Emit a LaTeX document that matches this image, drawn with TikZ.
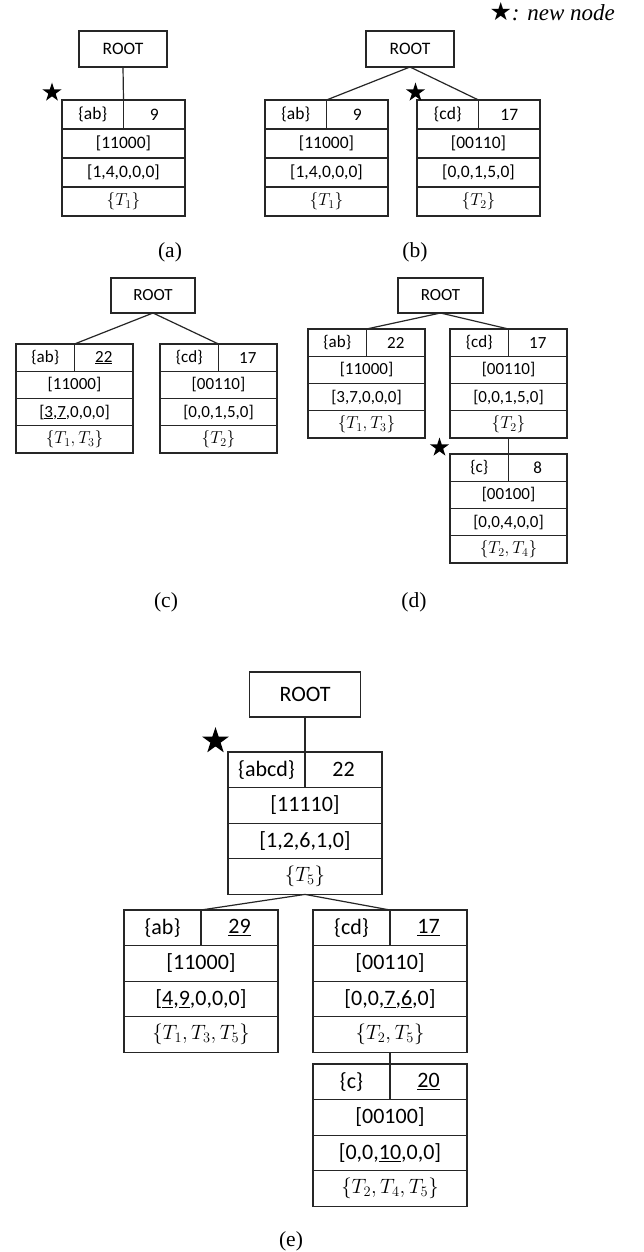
\documentclass[tikz,border=0pt]{standalone}
\usepackage{fontspec}
\setmainfont{Carlito}
\newfontfamily\capfont{Liberation Serif}
\newfontfamily\symfont{DejaVu Sans}
\usetikzlibrary{shapes.geometric}

\tikzset{
  cell/.style={draw=black!85, rectangle, inner sep=0pt, outer sep=0pt, anchor=north west, line width=1.1pt},
  conn/.style={draw=black!85, line width=1.2pt},
  newmark/.style={star, star points=5, star point ratio=2.6, fill=black, draw=none, inner sep=0pt, outer sep=0pt, minimum size=20pt},
  sublabel/.style={font=\capfont\fontsize{21.5}{24}\selectfont, inner sep=0pt},
  smallfont/.style={font=\fontsize{17.5}{20}\selectfont},
  midfont/.style={font=\fontsize{17}{20}\selectfont},
  bigfont/.style={font=\fontsize{22}{26}\selectfont},
}

% #1 name, #2 top-left corner, #3 label, #4 count, #5 bits, #6 vector, #7 set
\newcommand\recbox[7]{%
  \node[cell, minimum width=\rw/2, minimum height=\rh] (#1l) at (#2) {#3};
  \node[cell, minimum width=\rw/2, minimum height=\rh] (#1r) at (#1l.north east) {#4};
  \node[cell, minimum width=\rw, minimum height=\rh] (#1b) at (#1l.south west) {#5};
  \node[cell, minimum width=\rw, minimum height=\rh] (#1v) at (#1b.south west) {#6};
  \node[cell, minimum width=\rw, minimum height=\rh] (#1s) at (#1v.south west) {#7};
}

\begin{document}
\begin{tikzpicture}[x=1pt, y=-1pt]
\fill[white] (0,0) rectangle (644,1252);
\useasboundingbox (0,0) rectangle (644,1252);

% legend
\node[anchor=base east, inner sep=0pt] (legend) at (615,21)
  {{\symfont\fontsize{25}{26}\selectfont ★}{\capfont\itshape\fontsize{23}{24}\selectfont : new node}};

% ---------- (a) ----------
\begin{scope}[smallfont]
\def\rw{123}\def\rh{29}
\node[cell, minimum width=88, minimum height=36] (aroot) at (79,31) {ROOT};
\recbox{a}{62,100}{\{ab\}}{9}{[11000]}{[1,4,0,0,0]}{$\{T_1\}$}
\draw[conn] (aroot.south) -- (al.north east);
\node[newmark] (astar) at (52,92.5) {};
\end{scope}
\node[sublabel] (capa) at (170,252) {(a)};

% ---------- (b) ----------
\begin{scope}[smallfont]
\def\rw{123}\def\rh{29}
\node[cell, minimum width=88, minimum height=36] (broot) at (366,31) {ROOT};
\recbox{bA}{265,100}{\{ab\}}{9}{[11000]}{[1,4,0,0,0]}{$\{T_1\}$}
\recbox{bB}{417,100}{\{cd\}}{17}{[00110]}{[0,0,1,5,0]}{$\{T_2\}$}
\draw[conn] (broot.south) -- (bAl.north east);
\draw[conn] (broot.south) -- (bBl.north east);
\node[newmark] (bstar) at (415.5,92.5) {};
\end{scope}
\node[sublabel] (capb) at (415,252) {(b)};

% ---------- (c) ----------
\begin{scope}[midfont]
\def\rw{117}\def\rh{27.25}
\node[cell, minimum width=84, minimum height=35] (croot) at (111,278) {ROOT};
\recbox{cA}{16,344}{\{ab\}}{\underline{22}}{[11000]}{[\underline{3},\underline{7},0,0,0]}{$\{T_1,T_3\}$}
\recbox{cB}{160,344}{\{cd\}}{17}{[00110]}{[0,0,1,5,0]}{$\{T_2\}$}
\draw[conn] (croot.south) -- (cAl.north east);
\draw[conn] (croot.south) -- (cBl.north east);
\end{scope}
\node[sublabel] (capc) at (166,602) {(c)};

% ---------- (d) ----------
\begin{scope}[midfont]
\def\rw{117}\def\rh{27.25}
\node[cell, minimum width=85, minimum height=35] (droot) at (398,278) {ROOT};
\recbox{dA}{308,329}{\{ab\}}{22}{[11000]}{[3,7,0,0,0]}{$\{T_1,T_3\}$}
\recbox{dB}{450,329}{\{cd\}}{17}{[00110]}{[0,0,1,5,0]}{$\{T_2\}$}
\recbox{dC}{450,454}{\{c\}}{8}{[00100]}{[0,0,4,0,0]}{$\{T_2,T_4\}$}
\draw[conn] (droot.south) -- (dAl.north east);
\draw[conn] (droot.south) -- (dBl.north east);
\draw[conn] (dBs.south) -- (dCl.north east);
\node[newmark] (dstar) at (439.5,447.5) {};
\end{scope}
\node[sublabel] (capd) at (414,602) {(d)};

% ---------- (e) ----------
\begin{scope}[bigfont]
\def\rw{154}\def\rh{35.6}
\node[cell, minimum width=111, minimum height=45] (eroot) at (249.5,672) {ROOT};
\recbox{eT}{228,752}{\{abcd\}}{22}{[11110]}{[1,2,6,1,0]}{$\{T_5\}$}
\recbox{eA}{124,910}{\{ab\}}{\underline{29}}{[11000]}{[\underline{4},\underline{9},0,0,0]}{$\{T_1,T_3,T_5\}$}
\recbox{eB}{313,910}{\{cd\}}{\underline{17}}{[00110]}{[0,0,\underline{7},\underline{6},0]}{$\{T_2,T_5\}$}
\recbox{eC}{313,1064}{\{c\}}{\underline{20}}{[00100]}{[0,0,\underline{10},0,0]}{$\{T_2,T_4,T_5\}$}
\draw[conn] (eroot.south) -- (eTl.north east);
\draw[conn] (eTs.south) -- (eAl.north east);
\draw[conn] (eTs.south) -- (eBl.north east);
\draw[conn] (eBs.south) -- (eCl.north east);
\node[newmark, minimum size=28pt] (estar) at (215.5,741) {};
\end{scope}
\node[sublabel] (cape) at (291,1241) {(e)};

\end{tikzpicture}
\end{document}
